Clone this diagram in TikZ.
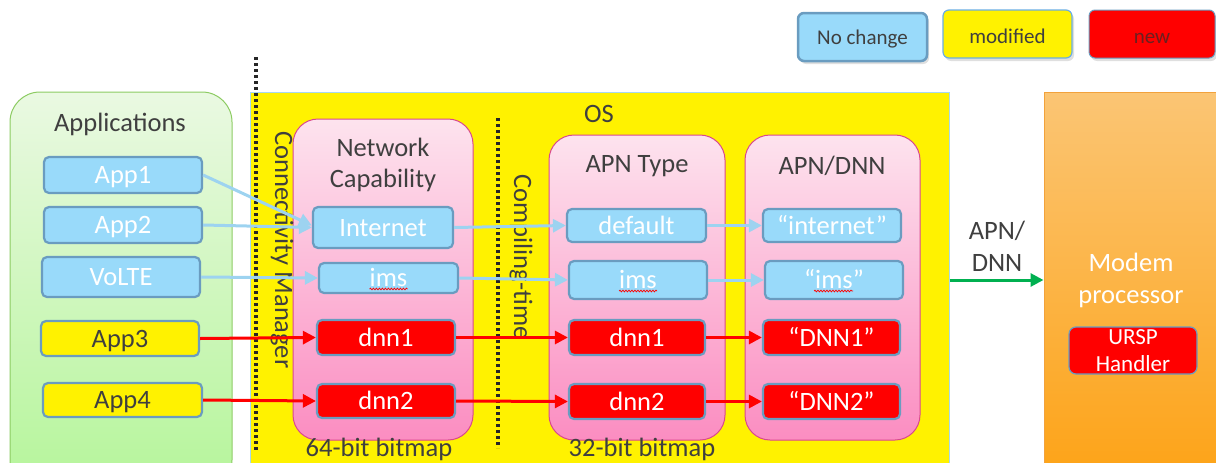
\documentclass[tikz,border=0pt]{standalone}
\usepackage{fontspec}
\setmainfont{Carlito}
\usetikzlibrary{arrows.meta,shadows,decorations.pathmorphing}
\definecolor{lb}{HTML}{99DAFA}
\definecolor{bdr}{HTML}{6A9CC0}
\definecolor{ablue}{HTML}{9DD3F0}
\definecolor{dk}{HTML}{3F3F3F}
\definecolor{pinkT}{HTML}{FDE3EE}
\definecolor{pinkB}{HTML}{FB8DC1}
\definecolor{pinkD}{HTML}{D9488E}
\definecolor{grT}{HTML}{EAF9E2}
\definecolor{grB}{HTML}{B5F59A}
\definecolor{grD}{HTML}{8CCB62}
\definecolor{orT}{HTML}{FBC574}
\definecolor{orB}{HTML}{FDA214}
\definecolor{orD}{HTML}{F2A23C}
\definecolor{garr}{HTML}{00B050}
\definecolor{osbd}{HTML}{A8D8F0}
\definecolor{newtxt}{HTML}{6B2020}
\newcommand{\fbig}{\fontsize{26.5}{32}\selectfont}
\newcommand{\fleg}{\fontsize{21}{25}\selectfont}
\tikzset{
  base/.style={rounded corners=5, line width=2.2, draw=bdr, inner sep=0, font=\fbig, text=white,
    text height=20pt, text depth=3pt},
  nc/.style={base, fill=lb},
  md/.style={base, fill=yellow, text=dk},
  nw/.style={base, fill=red},
  hdr/.style={font=\fbig, text=dk, align=center, inner sep=0},
  panel/.style={rounded corners=25, line width=1, draw=pinkD, top color=pinkT, bottom color=pinkB, inner sep=0},
  barrow/.style={draw=ablue, line width=3, -{Triangle[length=13pt,width=13pt]}},
  rarrow/.style={draw=red, line width=3, -{Triangle[length=13pt,width=13pt]}},
  dotline/.style={draw=black!85, line width=3.5, dash pattern=on 3pt off 3pt},
  wavy/.style={draw=red, line width=0.7, decorate, decoration={snake, amplitude=0.9pt, segment length=3pt}},
  leg/.style={rounded corners=6, inner sep=0, font=\fleg, minimum width=129, minimum height=48,
    text height=19pt, text depth=1pt,
    drop shadow={opacity=0.25, shadow xshift=2pt, shadow yshift=-3pt}},
}
\begin{document}
\begin{tikzpicture}[x=1pt,y=-1pt]
\useasboundingbox (0,0) rectangle (1216,463);
\clip (0,0) rectangle (1216,463);

% legend
\node[leg, fill=lb, draw=bdr, line width=2.5, text=dk, text height=16pt, text depth=2pt] (lnc) at (862.5,37) {No change};
\node[leg, fill=yellow, draw=cyan!70!blue!60, line width=1.2, text=dk] (lmd) at (1007.5,34) {modified};
\node[leg, fill=red, draw=bdr, line width=1, text=newtxt, minimum width=126] (lnw) at (1152,34) {new};

% panels
\node[draw=grD, line width=1, top color=grT, bottom color=grB, rounded corners=30, minimum width=222, minimum height=398, inner sep=0] (apps) at (121,291) {};
\node[draw=osbd, line width=1, fill=yellow, minimum width=699, minimum height=398, inner sep=0] (os) at (599.5,291) {};
\node[draw=orD, line width=1, top color=orT, bottom color=orB, minimum width=186, minimum height=398, inner sep=0] (modem) at (1137,291) {};

\node[panel, minimum width=180, minimum height=321] (netcap) at (383,279.5) {};
\node[panel, minimum width=176, minimum height=305] (apntype) at (637,287.5) {};
\node[panel, minimum width=175, minimum height=305] (apndnn) at (832.5,287.5) {};

% dotted separators
\coordinate (d1t) at (256,57); \coordinate (d1b) at (256,450);
\coordinate (d2t) at (498,118); \coordinate (d2b) at (498,448);
\draw[dotline] (d1t) -- (d1b);
\draw[dotline] (d2t) -- (d2b);

% headers
\node[hdr] (happs) at (120,124) {Applications};
\node[hdr] (hos) at (599,114) {OS};
\node[hdr] (hnet) at (383,165) {Network\\[-1pt]Capability};
\node[hdr] (hapn) at (637,166) {APN Type};
\node[hdr] (hdnn) at (832,166) {APN/DNN};
\node[hdr] (b64) at (379,449) {64-bit bitmap};
\node[hdr] (b32) at (642,449) {32-bit bitmap};
\node[hdr, rotate=-90] (cm) at (282,250) {Connectivity Manager};
\node[hdr, rotate=-90] (ct) at (521,257) {Compiling-time};
\node[hdr] (apnlbl) at (997,246) {APN/\\DNN};
\node[hdr, text=white] (mdm) at (1131,280) {Modem\\processor};

% application boxes
\node[nc, minimum width=158, minimum height=36] (app1) at (123,175) {App1};
\node[nc, minimum width=158, minimum height=36] (app2) at (123,225) {App2};
\node[nc, minimum width=158, minimum height=40] (volte) at (121,277) {VoLTE};
\node[md, minimum width=158, minimum height=35] (app3) at (120,338.5) {App3};
\node[md, minimum width=159, minimum height=34] (app4) at (122.5,400) {App4};

% network capability boxes
\node[nc, minimum width=140, minimum height=41] (inet) at (383,227.5) {Internet};
\node[nc, minimum width=139, minimum height=30] (ims1) at (388.5,278) {ims};
\node[nw, minimum width=138, minimum height=35] (dnn1a) at (386,337.5) {dnn1};
\node[nw, minimum width=138, minimum height=34] (dnn2a) at (386,401) {dnn2};

% APN type boxes
\node[nc, minimum width=139, minimum height=33] (dflt) at (636.5,225.5) {default};
\node[nc, minimum width=138, minimum height=38] (ims2) at (638,280) {ims};
\node[nw, minimum width=136, minimum height=35] (dnn1b) at (637,337.5) {dnn1};
\node[nw, minimum width=136, minimum height=35] (dnn2b) at (637,401.5) {dnn2};

% APN/DNN boxes
\node[nc, minimum width=138, minimum height=33] (qinet) at (832,225.5) {“internet”};
\node[nc, minimum width=138, minimum height=38] (qims) at (834,280) {“ims”};
\node[nw, minimum width=137, minimum height=35] (qd1) at (831.5,337.5) {“DNN1”};
\node[nw, minimum width=137, minimum height=35] (qd2) at (831.5,401.5) {“DNN2”};

% URSP handler
\node[draw=bdr, fill=red, text=white, inner sep=0, line width=1.2, rounded corners=7, minimum width=128, minimum height=47, align=center,
  font=\fontsize{23}{27}\selectfont] (ursp) at (1133,350.5) {URSP\\Handler};

% spell-check marks
\draw[wavy] ([xshift=-19pt,yshift=-11pt]ims1.center) -- ([xshift=19pt,yshift=-11pt]ims1.center);
\draw[wavy] ([xshift=-19pt,yshift=-11pt]ims2.center) -- ([xshift=19pt,yshift=-11pt]ims2.center);
\draw[wavy] ([xshift=-20pt,yshift=-11pt]qims.center) -- ([xshift=19pt,yshift=-11pt]qims.center);

% connectors
\draw[barrow] (app1.east) -- ([yshift=2pt]inet.west);
\draw[barrow] (app2.east) -- (inet.west);
\draw[barrow] (volte.east) -- (ims1.west);
\draw[rarrow] (app3.east) -- (dnn1a.west);
\draw[rarrow] (app4.east) -- (dnn2a.west);

\draw[barrow] (inet.east) -- (dflt.west);
\draw[barrow] (ims1.east) -- (ims2.west);
\draw[rarrow] (dnn1a.east) -- (dnn1b.west);
\draw[rarrow] (dnn2a.east) -- (dnn2b.west);

\draw[barrow] (dflt.east) -- (qinet.west);
\draw[barrow] (ims2.east) -- (qims.west);
\draw[rarrow] (dnn1b.east) -- (qd1.west);
\draw[rarrow] (dnn2b.east) -- (qd2.west);

\draw[draw=garr, line width=3, -{Triangle[length=13pt,width=13pt]}] (os.east |- ims2) -- (modem.west |- ims2);
\end{tikzpicture}
\end{document}
